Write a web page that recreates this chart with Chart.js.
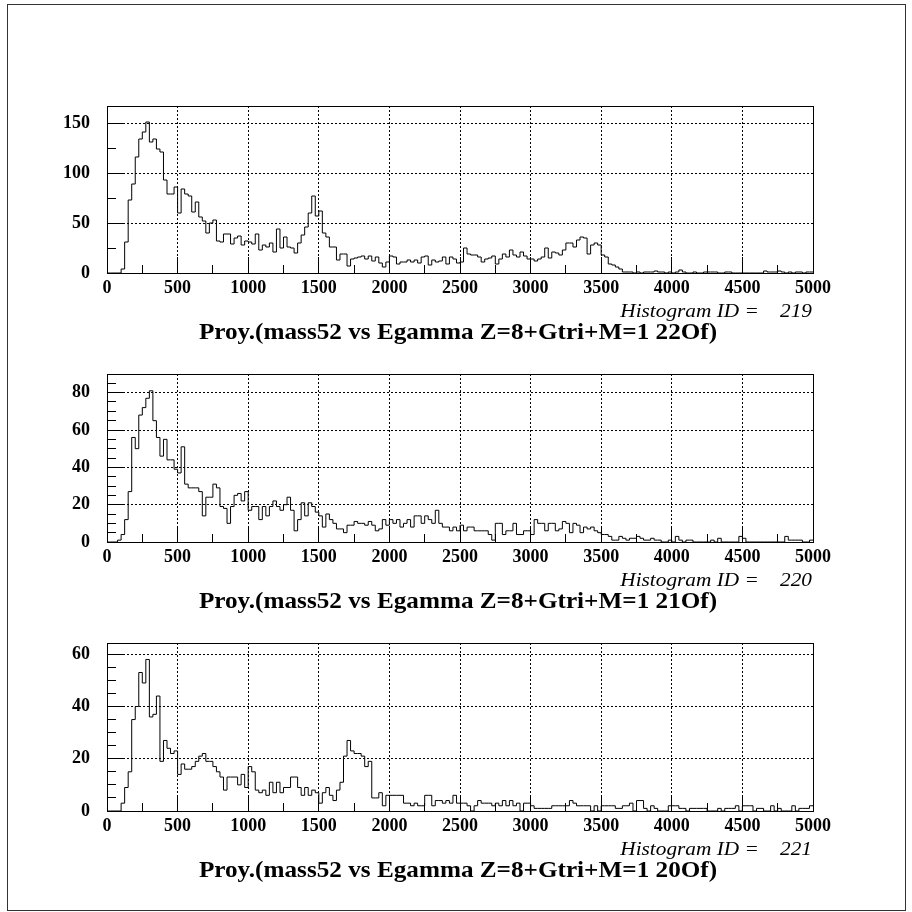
<!DOCTYPE html>
<html>
<head>
<meta charset="UTF-8">
<title>Proy.(mass52 vs Egamma)</title>
<script src="https://cdn.jsdelivr.net/npm/chart.js"></script>
<style>
    body { margin: 0; background: #fff; }
    #page { position: relative; width: 912px; height: 912px; overflow: hidden; background: #fff; }
    #frame { position: absolute; left: 7px; top: 4px; width: 897px; height: 905px; border: 1px solid #333; }
    canvas { position: absolute; left: 0; }
</style>
</head>
<body>
<div id="page"><div id="frame"></div></div>
<script>
// bins of 25 keV from 0 to 5000
const binWidth = 25;
const xTicks = [0, 500, 1000, 1500, 2000, 2500, 3000, 3500, 4000, 4500, 5000];

const counts219 = [
    0,0,0,0,4,31,73,89,116,134,141,151,131,134,124,121,93,79,79,86,
    60,84,79,77,61,71,56,52,40,50,53,32,31,39,39,29,35,37,28,32,
    31,29,39,23,28,26,30,21,44,25,36,26,25,20,30,38,46,60,77,57,
    62,40,36,26,26,13,19,19,7,14,15,16,17,14,17,12,16,10,6,11,
    17,16,9,11,11,13,11,13,10,16,17,8,13,11,12,16,9,16,14,10,
    11,25,19,18,18,16,11,14,15,17,9,14,19,16,23,18,16,21,17,14,
    14,12,14,16,25,15,21,20,18,23,30,30,26,33,36,35,19,28,30,28,
    18,16,9,8,6,4,1,1,1,0,1,0,1,1,1,2,1,1,0,1,
    0,1,3,1,0,0,1,0,0,1,1,1,1,0,0,1,1,0,0,0,
    0,0,0,0,0,0,2,1,1,1,2,1,0,1,0,1,1,0,1,1
];
const counts220 = [
    0,0,0,1,4,12,27,56,50,68,72,77,81,65,56,46,55,44,44,39,
    37,51,31,29,29,29,27,14,24,24,31,29,19,18,10,19,25,26,22,27,
    17,19,19,12,19,14,19,22,19,17,20,24,17,6,12,21,14,21,19,16,
    14,8,15,12,10,7,7,5,9,9,11,10,10,9,11,9,6,7,12,9,
    12,10,12,8,10,12,8,14,14,10,14,12,10,17,10,8,8,6,8,6,
    9,6,8,8,6,6,6,6,4,1,10,10,4,6,6,10,4,4,6,6,
    4,12,10,10,6,10,10,6,7,11,10,5,10,9,5,8,7,8,6,5,
    4,4,3,1,1,3,2,1,2,2,3,2,1,1,2,1,1,0,0,1,
    0,3,1,0,1,1,0,0,0,0,0,1,0,2,0,0,0,0,0,3,
    2,0,0,0,0,0,0,0,0,0,0,0,3,1,1,1,1,0,0,1
];
const counts221 = [
    0,0,0,0,3,9,15,35,40,53,49,58,36,37,44,19,27,24,22,23,
    14,18,16,16,17,19,21,22,19,19,17,15,13,8,13,13,13,10,14,9,
    17,15,8,7,8,6,11,7,11,7,9,9,13,13,9,6,9,6,8,7,
    3,7,9,6,4,8,11,21,27,23,22,22,21,17,19,5,5,7,2,6,
    6,6,6,6,3,3,2,3,2,2,6,6,2,4,4,3,4,3,6,3,
    3,3,2,0,2,4,3,3,3,2,3,2,4,2,4,2,3,0,3,3,
    2,1,1,1,1,1,2,2,2,2,2,4,3,2,2,2,2,0,2,0,
    2,2,2,2,1,1,2,2,3,0,4,4,1,0,2,1,0,0,0,2,
    2,2,1,1,0,1,1,1,1,1,0,0,0,1,0,1,1,1,2,0,
    2,2,2,0,1,1,0,0,2,0,1,0,0,0,2,0,1,1,1,2
];

const yTicks219 = [0, 50, 100, 150];
const yTicks220 = [0, 20, 40, 60, 80];
const yTicks221 = [0, 20, 40, 60];
const yMax = [167, 90, 64.3];
const histIds = [219, 220, 221];
const titles = [
    'Proy.(mass52 vs Egamma Z=8+Gtri+M=1 22Of)',
    'Proy.(mass52 vs Egamma Z=8+Gtri+M=1 21Of)',
    'Proy.(mass52 vs Egamma Z=8+Gtri+M=1 20Of)'
];

// where each frame sits on the page
const panels = [
    { counts: counts219, yTicks: yTicks219, yMinor: 25, top: 106, bottom: 273 },
    { counts: counts220, yTicks: yTicks220, yMinor: 5, top: 374, bottom: 542 },
    { counts: counts221, yTicks: yTicks221, yMinor: 5, top: 643, bottom: 811 }
];

Chart.defaults.font.family = '"Liberation Serif", "Times New Roman", serif';
Chart.defaults.color = '#000';

const align = v => Math.round(v - 0.5) + 0.5;

function drawText(ctx, text, x, y, font, textAlign, sx) {
    ctx.save();
    ctx.font = font;
    ctx.textAlign = textAlign;
    ctx.textBaseline = 'alphabetic';
    ctx.translate(x, y);
    ctx.scale(sx, 1);
    ctx.fillText(text, 0, 0);
    ctx.restore();
}

// frame, inner ticks and the two text lines, ROOT style
const rootDecor = {
    id: 'rootDecor',
    afterDatasetsDraw(chart, args, o) {
        const { ctx, chartArea: a, scales: { x, y } } = chart;
        ctx.save();
        ctx.strokeStyle = '#000';
        ctx.lineWidth = 1;
        ctx.beginPath();
        for (let v = 250; v < x.max; v += 250) {
            const px = align(x.getPixelForValue(v));
            const len = v % 500 === 0 ? 16 : 8;
            ctx.moveTo(px, a.bottom);
            ctx.lineTo(px, a.bottom - len);
        }
        const major = o.yTicks[1] - o.yTicks[0];
        for (let v = o.yMinor; v < y.max; v += o.yMinor) {
            const py = align(y.getPixelForValue(v));
            const len = v % major === 0 ? 17 : 9;
            ctx.moveTo(a.left, py);
            ctx.lineTo(a.left + len, py);
        }
        ctx.stroke();
        ctx.strokeRect(align(a.left), align(a.top), Math.round(a.right - a.left), Math.round(a.bottom - a.top));
        ctx.fillStyle = '#000';
        drawText(ctx, 'Histogram ID =    ' + o.id, a.right - 1, a.bottom + 44, 'italic 19px "Liberation Serif"', 'right', 1.12);
        drawText(ctx, o.title, 458, a.bottom + 66, 'bold 22.5px "Liberation Serif"', 'center', 1.12);
        ctx.restore();
    }
};

const page = document.getElementById('page');

panels.forEach((p, k) => {
    const canvas = document.createElement('canvas');
    const h = (p.bottom - p.top) + 120;
    canvas.width = 912;
    canvas.height = h;
    canvas.style.top = (p.top - 20) + 'px';
    page.appendChild(canvas);

    const pts = p.counts.map((c, i) => ({ x: i * binWidth, y: c }));
    pts.push({ x: p.counts.length * binWidth, y: p.counts[p.counts.length - 1] });

    new Chart(canvas, {
        type: 'line',
        data: {
            datasets: [{
                data: pts,
                stepped: true,
                borderColor: '#000',
                borderWidth: 1,
                pointRadius: 0,
                fill: false
            }]
        },
        options: {
            responsive: false,
            devicePixelRatio: 1,
            animation: false,
            layout: { padding: { left: 7, right: 99, top: 20, bottom: 70 } },
            plugins: {
                legend: { display: false },
                tooltip: { enabled: false },
                rootDecor: { id: histIds[k], title: titles[k], yTicks: p.yTicks, yMinor: p.yMinor }
            },
            scales: {
                x: {
                    type: 'linear',
                    min: 0,
                    max: 5000,
                    afterBuildTicks: s => { s.ticks = xTicks.map(v => ({ value: v })); },
                    afterFit: s => { s.height = 30; s.paddingLeft = 0; s.paddingRight = 0; },
                    ticks: {
                        callback: v => String(v),
                        font: { size: 18, weight: 'bold' },
                        padding: 5,
                        autoSkip: false,
                        maxRotation: 0,
                        minRotation: 0
                    },
                    grid: {
                        drawTicks: false,
                        lineWidth: 1,
                        color: c => (c.tick && (c.tick.value === 0 || c.tick.value === 5000)) ? 'rgba(0,0,0,0)' : '#000'
                    },
                    border: { display: false, dash: [2, 2] }
                },
                y: {
                    type: 'linear',
                    min: 0,
                    max: yMax[k],
                    afterBuildTicks: s => { s.ticks = p.yTicks.map(v => ({ value: v })); },
                    afterFit: s => { s.width = 100; s.paddingTop = 0; s.paddingBottom = 0; },
                    ticks: {
                        callback: v => String(v),
                        font: { size: 18, weight: 'bold' },
                        padding: 17
                    },
                    grid: {
                        drawTicks: false,
                        lineWidth: 1,
                        color: c => (c.tick && c.tick.value === 0) ? 'rgba(0,0,0,0)' : '#000'
                    },
                    border: { display: false, dash: [2, 2] }
                }
            }
        },
        plugins: [rootDecor]
    });
});
</script>
</body>
</html>
